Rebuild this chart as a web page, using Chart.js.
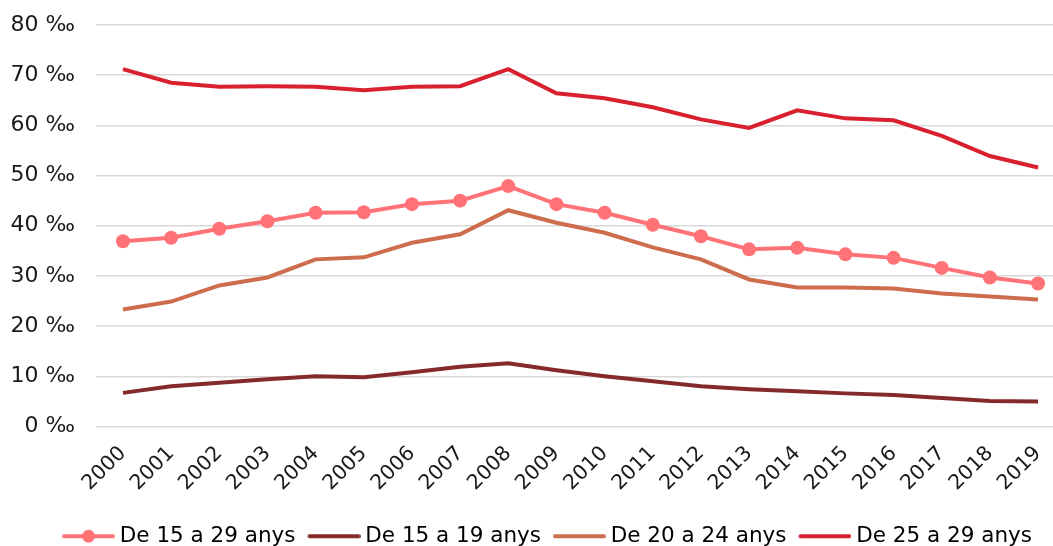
<!DOCTYPE html>
<html>
<head>
<meta charset="utf-8">
<script src="https://cdn.jsdelivr.net/npm/chart.js@4"></script>
<style>
  html, body { margin: 0; padding: 0; background: #fff; }
  #wrap { width: 1053px; height: 546px; }
</style>
</head>
<body>
<div id="wrap"><canvas id="chart"></canvas></div>
<script>
const years = ['2000','2001','2002','2003','2004','2005','2006','2007','2008','2009',
               '2010','2011','2012','2013','2014','2015','2016','2017','2018','2019'];
const age15to29 = [36.9, 37.6, 39.4, 40.9, 42.6, 42.7, 44.3, 45.0, 47.9, 44.3,
                   42.6, 40.2, 37.9, 35.3, 35.6, 34.3, 33.6, 31.6, 29.7, 28.5];
const age15to19 = [6.7, 8.0, 8.7, 9.4, 10.0, 9.8, 10.8, 11.9, 12.6, 11.2,
                   10.0, 9.0, 8.0, 7.4, 7.0, 6.6, 6.3, 5.7, 5.1, 5.0];
const age20to24 = [23.3, 24.9, 28.1, 29.7, 33.3, 33.7, 36.6, 38.3, 43.1, 40.6,
                   38.6, 35.7, 33.3, 29.3, 27.7, 27.7, 27.5, 26.5, 25.9, 25.3];
const age25to29 = [71.2, 68.5, 67.7, 67.8, 67.7, 67.0, 67.7, 67.8, 71.2, 66.4,
                   65.4, 63.6, 61.2, 59.5, 63.0, 61.4, 61.0, 57.9, 53.9, 51.6];
const seriesNames = ['De 15 a 29 anys', 'De 15 a 19 anys', 'De 20 a 24 anys', 'De 25 a 29 anys'];
const yTicks = [0, 10, 20, 30, 40, 50, 60, 70, 80];

const colors = ['#ff7276', '#842a2b', '#cd6d4d', '#d9202f'];
const font = "Verdana, 'DejaVu Sans', sans-serif";

// legend swatch: transparent left margin so the line sits just before the text
function swatch(color, dot) {
  const c = document.createElement('canvas');
  c.width = 68; c.height = 16;
  const g = c.getContext('2d');
  g.strokeStyle = color;
  g.lineWidth = 4;
  g.lineCap = 'round';
  g.beginPath(); g.moveTo(17, 8); g.lineTo(66, 8); g.stroke();
  if (dot) {
    g.fillStyle = color;
    g.beginPath(); g.arc(41.5, 8, 6.5, 0, Math.PI * 2); g.fill();
  }
  return c;
}

function toPoints(arr) {
  return arr.map((v, i) => ({ x: Number(years[i]), y: v }));
}

// the legend row sits a bit right of the canvas centre
const legendShift = {
  id: 'legendShift',
  afterLayout(chart) {
    chart.legend.left += 16;
    chart.legend.right += 16;
  }
};

const allSeries = [age15to29, age15to19, age20to24, age25to29];

const ctx = document.querySelector('#chart').getContext('2d');
const chart = new Chart(ctx, {
  type: 'line',
  data: {
    datasets: allSeries.map((arr, i) => ({
      label: seriesNames[i],
      data: toPoints(arr),
      borderColor: colors[i],
      backgroundColor: colors[i],
      borderWidth: 4,
      tension: 0,
      pointStyle: 'circle',
      pointRadius: i === 0 ? 7 : 0,
      pointHoverRadius: i === 0 ? 7 : 0,
      pointBorderWidth: 0,
      order: i === 0 ? 0 : 1
    }))
  },
  plugins: [legendShift],
  options: {
    responsive: true,
    maintainAspectRatio: false,
    animation: false,
    events: [],
    layout: { autoPadding: false, padding: { top: 25, left: 0, right: 0, bottom: -11 } },
    plugins: {
      tooltip: { enabled: false },
      legend: {
        position: 'bottom',
        labels: {
          usePointStyle: true,
          pointStyleWidth: 56,
          boxHeight: 16,
          padding: 3,
          color: '#1a1a1a',
          font: { family: font, size: 21.5 },
          generateLabels: (chart) => chart.data.datasets.map((ds, i) => ({
            text: ds.label,
            pointStyle: swatch(colors[i], i === 0),
            fillStyle: colors[i],
            strokeStyle: colors[i],
            lineWidth: 0,
            datasetIndex: i
          }))
        }
      }
    },
    scales: {
      x: {
        type: 'linear',
        min: 1999.44,
        max: 2019.31,
        grid: { display: false },
        border: { display: false },
        afterFit: (scale) => {
          scale.height = 96;
          scale.paddingLeft = 0;
          scale.paddingRight = 0;
        },
        ticks: {
          stepSize: 1,
          includeBounds: false,
          autoSkip: false,
          minRotation: 45,
          maxRotation: 45,
          padding: 7,
          color: '#1a1a1a',
          font: { family: font, size: 20.5 },
          callback: (v) => Number.isInteger(v) ? String(v) : ''
        }
      },
      y: {
        min: 0,
        max: 80,
        grid: { color: '#d9d9d9', lineWidth: 1.5, drawTicks: false },
        border: { display: false },
        afterFit: (scale) => {
          scale.width = 96;
          scale.paddingTop = 0;
          scale.paddingBottom = 0;
        },
        afterBuildTicks: (scale) => { scale.ticks = yTicks.map(v => ({ value: v })); },
        ticks: {
          padding: 21,
          color: '#1a1a1a',
          font: { family: font, size: 22 },
          callback: (v) => v + ' \u2030'
        }
      }
    }
  }
});
</script>
</body>
</html>
